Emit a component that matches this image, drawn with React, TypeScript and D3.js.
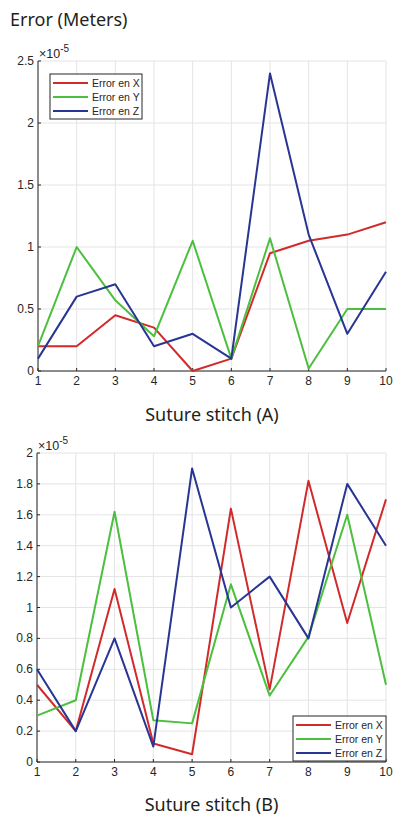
import React from 'react';
import * as d3 from 'd3';

const stitches = [1, 2, 3, 4, 5, 6, 7, 8, 9, 10];
const seriesNames = ['Error en X', 'Error en Y', 'Error en Z'];
const seriesColors = ['#d12a2a', '#4cbf3f', '#283593'];

// values in units of 1e-5 m
const errXA = [0.2, 0.2, 0.45, 0.35, 0, 0.1, 0.95, 1.05, 1.1, 1.2];
const errYA = [0.2, 1.0, 0.57, 0.28, 1.05, 0.1, 1.07, 0.02, 0.5, 0.5];
const errZA = [0.1, 0.6, 0.7, 0.2, 0.3, 0.1, 2.4, 1.1, 0.3, 0.8];

const errXB = [0.5, 0.2, 1.12, 0.12, 0.05, 1.64, 0.47, 1.82, 0.9, 1.7];
const errYB = [0.3, 0.4, 1.62, 0.27, 0.25, 1.15, 0.43, 0.81, 1.6, 0.5];
const errZB = [0.6, 0.2, 0.8, 0.1, 1.9, 1.0, 1.2, 0.8, 1.8, 1.4];

const yTicksA = [0, 0.5, 1, 1.5, 2, 2.5];
const yTicksB = [0, 0.2, 0.4, 0.6, 0.8, 1, 1.2, 1.4, 1.6, 1.8, 2];

const tickFont = '"Liberation Sans", Arial, sans-serif';
const titleFont = '"Noto Sans", "Open Sans", sans-serif';

type PanelProps = {
  series: number[][];
  yTicks: number[];
  left: number;
  right: number;
  top: number;
  bottom: number;
  label: string;
  labelY: number;
  legendAt: 'nw' | 'se';
};

const Panel = ({ series, yTicks, left, right, top, bottom, label, labelY, legendAt }: PanelProps) => {
  const x = d3.scaleLinear().domain([1, 10]).range([left, right]);
  const y = d3.scaleLinear().domain([0, d3.max(yTicks) as number]).range([bottom, top]);
  const line = d3
    .line<number>()
    .x((_, i) => x(stitches[i]))
    .y((d) => y(d));

  const fmt = (d: number) => d3.format('~g')(d);

  const legW = legendAt === 'nw' ? 92 : 93;
  const legH = 45;
  const legX = legendAt === 'nw' ? left + 12 : right - legW;
  const legY = legendAt === 'nw' ? top + 13 : bottom - legH - 1;

  return (
    <g>
      {/* grid */}
      {stitches.map((s) => (
        <line key={'gx' + s} x1={x(s)} x2={x(s)} y1={top} y2={bottom} stroke="#e4e4e4" strokeWidth={1} />
      ))}
      {yTicks.map((t) => (
        <line key={'gy' + t} x1={left} x2={right} y1={y(t)} y2={y(t)} stroke="#e4e4e4" strokeWidth={1} />
      ))}

      {/* axes */}
      <line x1={left} x2={right} y1={bottom} y2={bottom} stroke="#262626" strokeWidth={1} />
      <line x1={left} x2={left} y1={top} y2={bottom} stroke="#262626" strokeWidth={1} />
      {stitches.map((s) => (
        <g key={'tx' + s}>
          <line x1={x(s)} x2={x(s)} y1={bottom} y2={bottom - 3} stroke="#262626" />
          <text x={x(s)} y={bottom + 14} textAnchor="middle" fontSize={12} fontFamily={tickFont} fill="#262626">
            {s}
          </text>
        </g>
      ))}
      {yTicks.map((t) => (
        <g key={'ty' + t}>
          <line x1={left} x2={left + 3} y1={y(t)} y2={y(t)} stroke="#262626" />
          <text x={left - 4} y={y(t) + 4} textAnchor="end" fontSize={12} fontFamily={tickFont} fill="#262626">
            {fmt(t)}
          </text>
        </g>
      ))}
      <text x={left + 1} y={top - 3} fontSize={12.5} fontFamily={tickFont} fill="#262626">
        ×10
        <tspan dy={-6} fontSize={10}>-5</tspan>
      </text>

      {/* series */}
      {series.map((vals, k) => (
        <path key={'s' + k} d={line(vals) || ''} fill="none" stroke={seriesColors[k]} strokeWidth={2} strokeLinejoin="round" />
      ))}

      {/* legend */}
      <rect x={legX} y={legY} width={legW} height={legH} fill="#ffffff" stroke="#262626" strokeWidth={1} />
      {seriesNames.map((n, k) => (
        <g key={'l' + k}>
          <line
            x1={legX + 3}
            x2={legX + 38}
            y1={legY + 9 + k * 14}
            y2={legY + 9 + k * 14}
            stroke={seriesColors[k]}
            strokeWidth={2}
          />
          <text x={legX + 42} y={legY + 13 + k * 14} fontSize={10.5} fontFamily={tickFont} fill="#262626">
            {n}
          </text>
        </g>
      ))}

      <text x={(left + right) / 2} y={labelY} textAnchor="middle" fontSize={18} fontFamily={titleFont} fill="#231f20">
        {label}
      </text>
    </g>
  );
};

export default function App() {
  return (
    <svg
      width={394}
      height={816}
      style={{ position: 'absolute', left: 0, top: 0, background: '#ffffff' }}
    >
      <text x={10} y={26} fontSize={18} fontFamily={titleFont} fill="#231f20">
        Error (Meters)
      </text>
      <Panel
        series={[errXA, errYA, errZA]}
        yTicks={yTicksA}
        left={38}
        right={386}
        top={61}
        bottom={371}
        label="Suture stitch (A)"
        labelY={421}
        legendAt="nw"
      />
      <Panel
        series={[errXB, errYB, errZB]}
        yTicks={yTicksB}
        left={37}
        right={386}
        top={453}
        bottom={762}
        label="Suture stitch (B)"
        labelY={811}
        legendAt="se"
      />
    </svg>
  );
}
